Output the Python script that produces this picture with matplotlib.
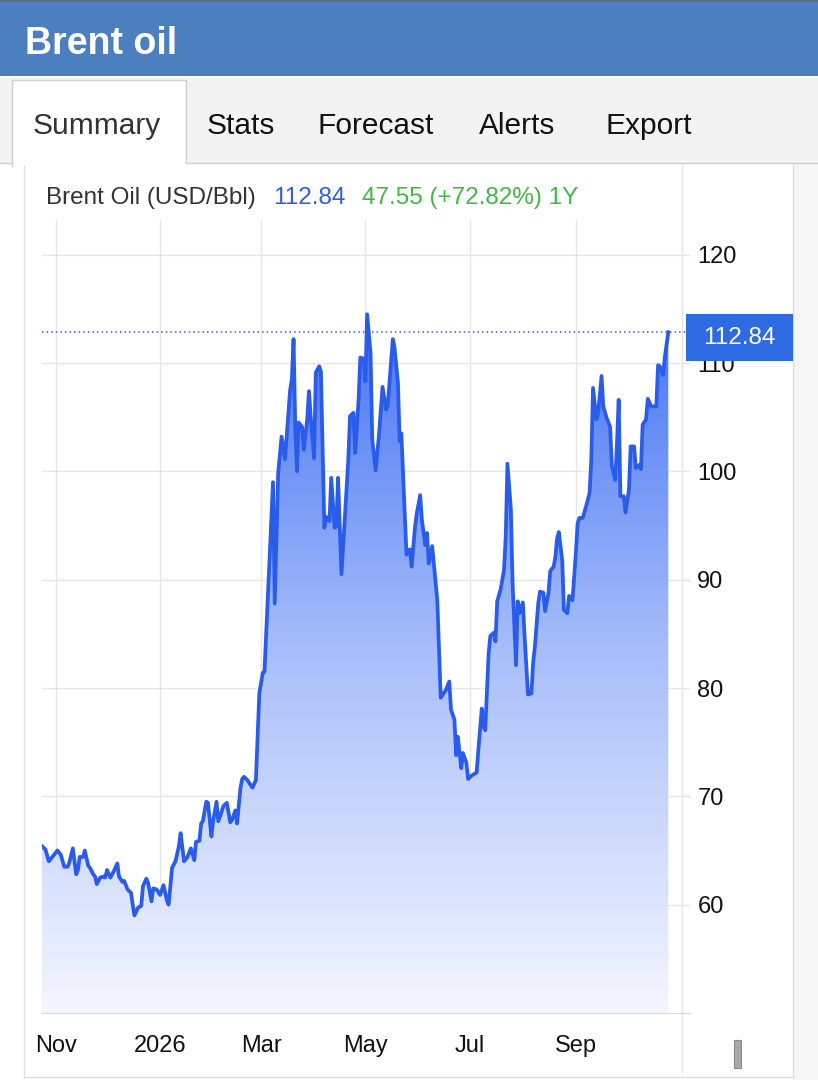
import datetime as dt
import numpy as np
import matplotlib
matplotlib.use('Agg')
import matplotlib.pyplot as plt
import matplotlib.dates as mdates
from matplotlib.patches import Rectangle
from matplotlib.colors import LinearSegmentedColormap

plt.rcParams['font.family'] = ['Liberation Sans', 'DejaVu Sans']

# data
start_date = dt.date(2025, 10, 24)
day_offsets = [
    0, 2, 4, 6, 9, 11, 13, 15, 16, 18, 20, 21, 22, 24, 25, 27, 28, 30, 31, 32,
    34, 36, 37, 38, 40, 42, 44, 45, 47, 48, 50, 52, 53, 54, 56, 58, 59, 61, 62, 64,
    65, 67, 69, 71, 73, 74, 76, 78, 80, 81, 83, 85, 87, 89, 90, 92, 93, 94, 96, 97,
    99, 100, 102, 103, 105, 106, 108, 110, 111, 113, 114, 116, 117, 118, 120, 123, 125, 127, 129, 130,
    135, 136, 138, 140, 142, 143, 145, 146, 147, 148, 149, 150, 152, 153, 155, 156, 157, 159, 160, 162,
    163, 165, 166, 168, 169, 171, 172, 173, 175, 177, 179, 180, 182, 183, 185, 186, 188, 189, 190, 192,
    193, 195, 197, 199, 201, 202, 205, 206, 208, 209, 210, 213, 215, 216, 218, 219, 221, 222, 224, 225,
    226, 228, 231, 233, 236, 238, 239, 241, 242, 243, 245, 246, 248, 249, 251, 254, 255, 257, 258, 259,
    261, 262, 264, 265, 266, 268, 270, 271, 272, 274, 275, 277, 278, 279, 281, 282, 284, 286, 287, 288,
    290, 291, 293, 294, 296, 297, 299, 300, 301, 302, 304, 305, 307, 308, 310, 312, 313, 314, 316, 318,
    320, 321, 322, 324, 325, 327, 328, 330, 332, 333, 335, 336, 337, 338, 340, 341, 343, 344, 346, 347,
    349, 350, 351, 353, 354, 356, 358, 359, 360, 361, 363, 364, 366,
]
prices = [
    65.4, 65.1, 64.0, 64.4, 65.0, 64.6, 63.5, 63.5, 63.9, 65.2, 62.8, 63.2, 64.4, 64.4, 65.0, 63.6, 63.4, 62.8, 62.6, 61.9,
    62.5, 62.6, 62.5, 63.2, 62.5, 63.1, 63.8, 62.6, 62.1, 62.2, 61.4, 61.1, 60.0, 59.0, 59.7, 59.9, 61.7, 62.4, 62.0, 60.3,
    61.5, 61.4, 60.9, 61.8, 60.4, 60.0, 63.4, 64.0, 65.4, 66.6, 64.0, 64.4, 65.2, 64.1, 65.8, 65.9, 67.5, 67.7, 69.5, 69.4,
    66.3, 67.7, 69.5, 67.7, 68.6, 69.1, 69.4, 67.6, 67.8, 68.7, 67.5, 70.8, 71.6, 71.8, 71.5, 70.8, 71.5, 79.5, 81.4, 81.5,
    99.0, 87.8, 99.8, 103.2, 101.1, 103.2, 107.5, 108.5, 112.2, 104.1, 100.0, 104.5, 104.1, 102.0, 104.8, 107.4, 105.1, 101.2, 109.1, 109.7,
    109.2, 94.8, 95.8, 95.4, 99.4, 94.8, 94.9, 99.4, 90.5, 95.8, 101.1, 105.1, 105.4, 101.7, 106.6, 110.5, 110.4, 108.3, 114.5, 110.9,
    102.9, 100.1, 103.5, 107.8, 105.7, 106.0, 112.2, 111.4, 108.2, 102.8, 103.5, 92.3, 92.8, 91.2, 94.9, 96.1, 97.8, 95.5, 93.2, 94.3,
    91.5, 93.1, 88.1, 79.1, 79.8, 80.6, 78.0, 77.1, 73.8, 75.5, 72.6, 74.0, 73.1, 71.6, 71.9, 72.2, 74.3, 78.1, 76.4, 76.1,
    83.2, 84.8, 85.1, 84.3, 88.0, 89.1, 90.9, 94.0, 100.7, 96.5, 89.7, 82.1, 88.0, 86.9, 87.9, 84.8, 79.4, 79.5, 82.3, 83.8,
    87.8, 88.9, 88.8, 87.1, 88.8, 90.8, 91.2, 92.1, 93.8, 94.4, 91.8, 87.2, 86.9, 88.5, 88.1, 92.5, 95.2, 95.7, 95.7, 96.8,
    98.0, 101.1, 107.7, 104.8, 105.4, 108.8, 106.0, 104.9, 104.1, 100.5, 99.2, 102.6, 106.6, 97.7, 97.7, 96.2, 98.3, 102.3, 102.3, 100.3,
    100.6, 100.2, 104.3, 104.8, 106.7, 106.0, 106.0, 106.0, 109.8, 109.7, 108.9, 110.6, 112.84,
]
tick_dates = [dt.date(2025, 11, 1), dt.date(2026, 1, 1), dt.date(2026, 3, 1),
              dt.date(2026, 5, 1), dt.date(2026, 7, 1), dt.date(2026, 9, 1)]
tick_labels = ['Nov', '2026', 'Mar', 'May', 'Jul', 'Sep']
y_ticks = [60, 70, 80, 90, 100, 110, 120]
last_price = 112.84
change = 47.55
change_pct = 72.82
tabs = ['Summary', 'Stats', 'Forecast', 'Alerts', 'Export']
tab_x = [33, 207, 318, 479, 606]

W, H = 818, 1080
fig = plt.figure(figsize=(W / 100, H / 100), dpi=100)
fig.patch.set_facecolor('white')

# page decoration in pixel coordinates
bg = fig.add_axes([0, 0, 1, 1])
bg.set_xlim(0, W)
bg.set_ylim(H, 0)
bg.axis('off')

bg.add_patch(Rectangle((0, 0), W, 76, color='#4b7fc0', lw=0))
bg.add_patch(Rectangle((0, 0), W, 2, color='#5b6f8c', lw=0))
bg.text(25, 54, 'Brent oil', color='white', fontsize=27, fontweight='bold', va='baseline')

# tab bar
bg.add_patch(Rectangle((0, 78), W, 85, color='#f3f3f3', lw=0))
bg.plot([0, 12], [162.5, 162.5], color='#cfcfcf', lw=1)
bg.plot([186, W], [162.5, 162.5], color='#cfcfcf', lw=1)
bg.add_patch(Rectangle((12, 80), 174, 90, facecolor='white', lw=0))
bg.plot([12, 12, 186, 186], [166, 80, 80, 163], color='#cfcfcf', lw=1)
for name, x in zip(tabs, tab_x):
    bg.text(x, 134, name, color='#333333' if name == 'Summary' else '#111111',
            fontsize=21.5, va='baseline')

# content panel
bg.add_patch(Rectangle((793, 163), W - 793, H - 163, color='#f6f6f6', lw=0))
bg.plot([24, 24], [166, 1077], color='#dddddd', lw=1)
bg.plot([793, 793], [163, 1077], color='#dddddd', lw=1)
bg.plot([24, 793], [1077, 1077], color='#dddddd', lw=1)
bg.plot([682, 682], [165, 1072], color='#e3e3e3', lw=1)

bg.text(46, 204, 'Brent Oil (USD/Bbl)', color='#333333', fontsize=17.5, va='baseline')
bg.text(273, 204, f'{last_price:.2f}', color='#3060d8', fontsize=17.5, va='baseline')
bg.text(362, 204, f'{change:.2f} (+{change_pct:.2f}%) 1Y', color='#40b844', fontsize=17.5, va='baseline')

# navigator handle
bg.add_patch(Rectangle((734, 1040), 7, 28, facecolor='#a8a8a8', edgecolor='#888888', lw=0.8))

# chart axes
left, right, top, bottom = 42, 682, 220, 1013
ax = fig.add_axes([left / W, 1 - bottom / H, (right - left) / W, (bottom - top) / H])
ax.set_facecolor('none')

dates = [start_date + dt.timedelta(days=d) for d in day_offsets]
xs = mdates.date2num(dates)
x0 = mdates.date2num(start_date)
x1 = mdates.date2num(dt.date(2026, 11, 2))
y0, y1 = 50, 123.2

poly = ax.fill_between(xs, prices, y0, facecolor='none', edgecolor='none')
cmap = LinearSegmentedColormap.from_list('fade', ['#f4f6fe', '#a9bffa', '#4171f4'])
grad = np.linspace(0, 1, 256).reshape(-1, 1)
im = ax.imshow(grad, extent=[x0, x1, y0, 116], origin='lower', aspect='auto', cmap=cmap, zorder=1)
im.set_clip_path(poly.get_paths()[0], transform=ax.transData)
ax.set_xlim(x0, x1)
ax.set_ylim(y0, y1)

ax.plot(xs, prices, color='#2a5cec', lw=2.7, zorder=3, solid_joinstyle='round')
ax.axhline(last_price, color='#2f5fd0', lw=1.1, ls=(0, (1, 2)), zorder=2, clip_on=False,
           xmax=(686 - left) / (right - left))

tick_nums = mdates.date2num(tick_dates)
ax.set_xticks(tick_nums)
ax.set_xticklabels(tick_labels)
ax.set_yticks(y_ticks)
ax.yaxis.tick_right()
ax.grid(True, color='#e6e6e6', lw=1, zorder=0)
ax.set_axisbelow(True)
ax.tick_params(axis='x', length=0, pad=16, labelsize=17, labelcolor='#111111')
ax.tick_params(axis='y', length=6, width=1, color='#e3e3e3', pad=5, labelsize=17, labelcolor='#111111')
for s in ['top', 'left', 'right']:
    ax.spines[s].set_visible(False)
ax.spines['bottom'].set_color('#d8d8d8')
ax.spines['bottom'].set_bounds(x0, x1 + 4.5)
bg.set_zorder(0)
ax.set_zorder(1)

# last price label above the chart
box_ax = fig.add_axes([0, 0, 1, 1])
box_ax.set_xlim(0, W)
box_ax.set_ylim(H, 0)
box_ax.axis('off')
box_ax.add_patch(Rectangle((686, 314), 107, 47, color='#2d6ae3', lw=0))
box_ax.text(739, 338, f'{last_price:.2f}', color='white', fontsize=17.5, ha='center', va='center')
box_ax.set_zorder(2)

fig.savefig('out.png', dpi=100)
